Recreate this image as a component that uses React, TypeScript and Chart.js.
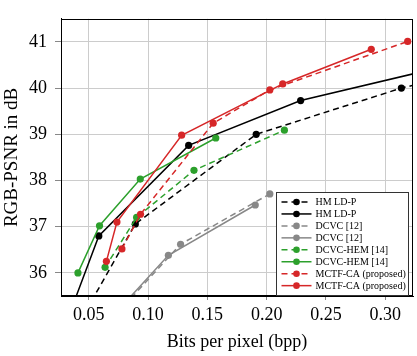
import { useEffect, useRef } from 'react';
import { Chart, registerables } from 'chart.js';

Chart.register(...registerables);

const xTicks = [0.05, 0.1, 0.15, 0.2, 0.25, 0.3];
const yTicks = [36, 37, 38, 39, 40, 41];

const seriesLabels = [
  'HM LD-P',
  'HM LD-P',
  'DCVC [12]',
  'DCVC [12]',
  'DCVC-HEM [14]',
  'DCVC-HEM [14]',
  'MCTF-CA (proposed)',
  'MCTF-CA (proposed)',
];

const hmDashX = [0.048, 0.0892, 0.1912, 0.3137, 0.5];
const hmDashY = [35.2, 37.06, 39.0, 40.0, 41.14];
const hmSolidX = [0.035, 0.0584, 0.1342, 0.2287, 0.45];
const hmSolidY = [35.2, 36.8, 38.76, 39.73, 41.08];
const dcvcDashX = [0.08, 0.1274, 0.2027];
const dcvcDashY = [35.3, 36.62, 37.71];
const dcvcSolidX = [0.075, 0.1171, 0.1904];
const dcvcSolidY = [35.2, 36.38, 37.47];
const hemDashX = [0.0637, 0.0903, 0.1387, 0.215];
const hemDashY = [36.12, 37.2, 38.22, 39.09];
const hemSolidX = [0.0408, 0.059, 0.0934, 0.1571];
const hemSolidY = [36.0, 37.02, 38.03, 38.92];
const mctfDashX = [0.0779, 0.0936, 0.1549, 0.2027, 0.319];
const mctfDashY = [36.52, 37.27, 39.24, 39.96, 41.01];
const mctfSolidX = [0.0648, 0.0737, 0.1283, 0.2136, 0.2883];
const mctfSolidY = [36.25, 37.1, 38.98, 40.09, 40.84];

const seriesX = [hmDashX, hmSolidX, dcvcDashX, dcvcSolidX, hemDashX, hemSolidX, mctfDashX, mctfSolidX];
const seriesY = [hmDashY, hmSolidY, dcvcDashY, dcvcSolidY, hemDashY, hemSolidY, mctfDashY, mctfSolidY];
const seriesColors = ['#000000', '#000000', '#888888', '#888888', '#2ca02c', '#2ca02c', '#d62728', '#d62728'];
const seriesDashed = [true, false, true, false, true, false, true, false];

const DASH = [6, 4];
const FONT = "'Liberation Serif', 'DejaVu Serif', serif";

const frameAndLegend = {
  id: 'frameAndLegend',
  afterDraw(chart: any) {
    const { ctx, chartArea } = chart;
    ctx.save();
    ctx.strokeStyle = '#000';
    ctx.lineWidth = 1;
    ctx.setLineDash([]);
    ctx.strokeRect(
      Math.round(chartArea.left) + 0.5,
      Math.round(chartArea.top) + 0.5,
      Math.round(chartArea.right - chartArea.left) - 1,
      Math.round(chartArea.bottom - chartArea.top) - 1
    );

    const ds = chart.data.datasets;
    const rowH = 11.95;
    const boxW = 132;
    const boxH = 103;
    const x0 = Math.round(chartArea.right - 5 - boxW) + 0.5;
    const y0 = Math.round(chartArea.bottom - 1 - boxH) + 0.5;
    ctx.fillStyle = '#fff';
    ctx.fillRect(x0, y0, boxW, boxH);
    ctx.strokeStyle = '#333';
    ctx.strokeRect(x0, y0, boxW, boxH);
    ctx.font = `10px ${FONT}`;
    ctx.textBaseline = 'middle';
    ctx.textAlign = 'left';
    ds.forEach((d: any, i: number) => {
      const cy = y0 + 9.5 + i * rowH;
      ctx.strokeStyle = d.borderColor;
      ctx.lineWidth = 1.5;
      ctx.setLineDash(d.borderDash || []);
      ctx.beginPath();
      ctx.moveTo(x0 + 5, cy);
      ctx.lineTo(x0 + 35, cy);
      ctx.stroke();
      ctx.setLineDash([]);
      ctx.fillStyle = d.borderColor;
      ctx.beginPath();
      ctx.arc(x0 + 20, cy, 3.3, 0, Math.PI * 2);
      ctx.fill();
      ctx.fillStyle = '#000';
      ctx.fillText(d.label, x0 + 39, cy + 0.5);
    });
    ctx.restore();
  },
};

export default function App() {
  const ref = useRef<HTMLCanvasElement>(null);
  useEffect(() => {
    document.body.style.margin = '0';
    const canvas = ref.current;
    if (!canvas) return;
    const datasets = seriesLabels.map((label, i) => ({
      label,
      data: seriesX[i].map((x, j) => ({ x, y: seriesY[i][j] })),
      borderColor: seriesColors[i],
      backgroundColor: seriesColors[i],
      pointBackgroundColor: seriesColors[i],
      pointBorderWidth: 0,
      pointRadius: 3.6,
      borderWidth: 1.5,
      borderDash: seriesDashed[i] ? DASH : [],
      fill: false,
      tension: 0,
      order: seriesLabels.length - i,
    }));
    const chart = new Chart(canvas, {
      type: 'line',
      data: { datasets },
      plugins: [frameAndLegend],
      options: {
        animation: false,
        responsive: false,
        devicePixelRatio: 1,
        layout: { padding: { top: 1, right: 2, left: 0, bottom: 0 } },
        plugins: { legend: { display: false }, tooltip: { enabled: false } },
        scales: {
          x: {
            type: 'linear',
            min: 0.0265,
            max: 0.3235,
            afterBuildTicks: (scale: any) => {
              scale.ticks = xTicks.map((v) => ({ value: v }));
            },
            afterFit: (scale: any) => {
              scale.height = 60;
            },
            ticks: {
              color: '#000',
              font: { family: FONT, size: 18 },
              padding: 4,
              maxRotation: 0,
              callback: (v: any) => Number(v).toFixed(2),
            },
            grid: { color: '#cccccc', lineWidth: 1, tickLength: 4, tickColor: '#888' },
            border: { color: '#000', width: 1 },
            title: {
              display: true,
              text: 'Bits per pixel (bpp)',
              color: '#000',
              font: { family: FONT, size: 18 },
              padding: { top: 0, bottom: 3 },
            },
          },
          y: {
            type: 'linear',
            min: 35.5,
            max: 41.5,
            afterBuildTicks: (scale: any) => {
              scale.ticks = yTicks.map((v) => ({ value: v }));
            },
            afterFit: (scale: any) => {
              scale.width = 61;
            },
            ticks: {
              color: '#000',
              font: { family: FONT, size: 18 },
              padding: 8,
              callback: (v: any) => String(v),
            },
            grid: { color: '#cccccc', lineWidth: 1, tickLength: 6, tickColor: '#888' },
            border: { color: '#000', width: 1 },
            title: {
              display: true,
              text: 'RGB-PSNR in dB',
              color: '#000',
              font: { family: FONT, size: 19 },
              padding: { top: 1, bottom: 0 },
            },
          },
        },
      },
    } as any);
    return () => chart.destroy();
  }, []);
  return (
    <div style={{ width: 417, height: 356 }}>
      <canvas ref={ref} width={417} height={356} style={{ display: 'block' }} />
    </div>
  );
}
